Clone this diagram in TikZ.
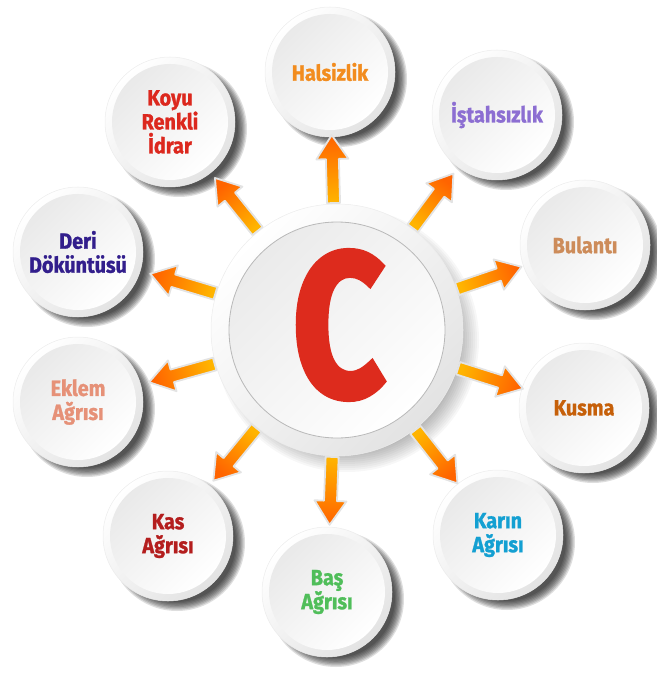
\documentclass[tikz,border=0pt]{standalone}
\usepackage{fontspec}
\setmainfont{Fira Sans}[FakeStretch=0.9, BoldFeatures={FakeBold=1.2}]
\newfontfamily\hubfont{Fira Sans}[FakeStretch=0.78, BoldFeatures={FakeBold=2.5}]
\usetikzlibrary{calc,backgrounds}
\definecolor{cred}{RGB}{221,43,29}
\definecolor{chal}{RGB}{242,140,30}
\definecolor{cist}{RGB}{140,110,210}
\definecolor{cbul}{RGB}{205,140,90}
\definecolor{ckus}{RGB}{198,96,10}
\definecolor{ckar}{RGB}{20,160,210}
\definecolor{cbas}{RGB}{80,190,90}
\definecolor{ckas}{RGB}{180,30,30}
\definecolor{cekl}{RGB}{230,145,120}
\definecolor{cder}{RGB}{50,30,140}
\definecolor{ckoy}{RGB}{220,40,30}
\definecolor{ctail}{RGB}{255,180,0}
\definecolor{chead}{RGB}{255,100,0}

\begin{document}
\begin{tikzpicture}[x=1pt, y=1pt,
    bubble/.style={circle, minimum size=116pt, inner sep=0pt, align=center,
                   font=\bfseries\fontsize{22}{24}\selectfont,
                   top color=gray!17, bottom color=white, shading angle=45},
    hub/.style={circle, minimum size=216pt, inner sep=0pt, draw=gray!55, line width=0.8pt,
                top color=gray!16, bottom color=white, shading angle=45},
    rim/.style={top color=white, bottom color=gray!22, shading angle=45, draw=gray!15, line width=0.5pt},
    arrowbody/.style={draw=gray!22, line width=1.8pt, line join=round,
                      top color=chead, bottom color=ctail},
  ]
  \useasboundingbox (0,0) rectangle (656,-676);
  % centre
  \node[hub] (ctr) at (337,-330) {};
  \node[text=cred, font=\hubfont\bfseries\fontsize{205}{205}\selectfont] (letter) at (339,-325) {C};
  % symptoms
  \node[bubble, text=chal] (hal) at (330,-72)  {Halsizlik};
  \node[bubble, text=cist] (ist) at (497,-115) {İştahsızlık};
  \node[bubble, text=cbul] (bul) at (585,-245) {Bulantı};
  \node[bubble, text=ckus] (kus) at (584,-408) {Kusma};
  \node[bubble, text=ckar] (kar) at (498,-535) {Karın\\Ağrısı};
  \node[bubble, text=cbas] (bas) at (327,-592) {Baş\\Ağrısı};
  \node[bubble, text=ckas] (kas) at (168,-536) {Kas\\Ağrısı};
  \node[bubble, text=cekl] (ekl) at (78,-402)  {Eklem\\Ağrısı};
  \node[bubble, text=cder] (der) at (78,-252)  {Deri\\Döküntüsü};
  \node[bubble, text=ckoy] (koy) at (170,-122) {Koyu\\Renkli\\İdrar};

  \begin{scope}[on background layer]
    % ring and shadow of the centre
    \foreach \k in {0,...,9}
      \fill[black, opacity=0.03] ($(ctr)+(10,-10)$) circle (132-\k*2);
    \shade[rim] (ctr) circle (126);
    % rims and shadows of the symptoms
    \foreach \t in {hal,ist,bul,kus,kar,bas,kas,ekl,der,koy} {
      \foreach \k in {0,...,7}
        \fill[black, opacity=0.13] ($(\t)+(9,-7)$) circle (68-\k*1.3);
      \shade[rim] (\t) circle (65);
    }
  \end{scope}

  % arrows
  \foreach \t in {hal,ist,bul,kus,kar,bas,kas,ekl,der,koy} {
    \pgfmathanglebetweenpoints{\pgfpointanchor{ctr}{center}}{\pgfpointanchor{\t}{center}}
    \let\ang\pgfmathresult
    \pgfmathsetmacro\sang{\ang-90}
    \shadedraw[arrowbody, shading angle=\sang]
      ($(ctr)+(\ang:127)+(\ang+90:6.5)$) -- ($(ctr)+(\ang:171)+(\ang+90:6.5)$)
      -- ($(ctr)+(\ang:171)+(\ang+90:16)$) -- ($(ctr)+(\ang:195)$)
      -- ($(ctr)+(\ang:171)+(\ang-90:16)$) -- ($(ctr)+(\ang:171)+(\ang-90:6.5)$)
      -- ($(ctr)+(\ang:127)+(\ang-90:6.5)$) -- cycle;
  }
\end{tikzpicture}
\end{document}
